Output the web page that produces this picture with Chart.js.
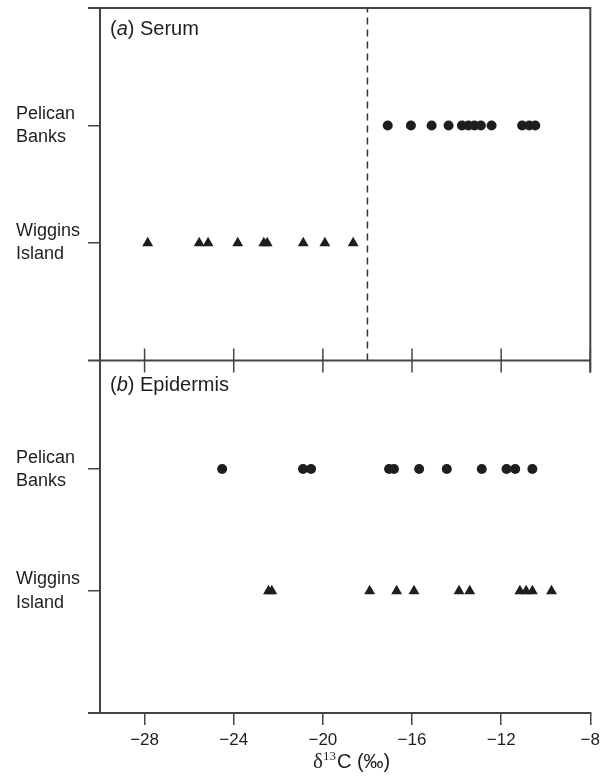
<!DOCTYPE html>
<html>
<head>
<meta charset="utf-8">
<script src="https://cdn.jsdelivr.net/npm/chart.js@4.4.1/dist/chart.umd.min.js"></script>
<style>
  html, body { margin: 0; padding: 0; background: #fff; }
  #wrap { position: relative; width: 605px; height: 781px; }
</style>
</head>
<body>
<div id="wrap"><canvas id="grafico"></canvas></div>
<script>
// ticks on the d13C axis
const xTicks = [-28, -24, -20, -16, -12, -8];
const sites = ['Pelican Banks', 'Wiggins Island'];
const siteLevels = [2, 1];
const panelTitles = [['(', 'a', ') Serum'], ['(', 'b', ') Epidermis']];
const serumSplit = -18;

// (a) serum
const serumPelican = [-17.09, -16.05, -15.12, -14.36, -13.76, -13.47, -13.2, -12.91, -12.43, -11.06, -10.74, -10.47];
const serumWiggins = [-27.86, -25.55, -25.15, -23.82, -22.65, -22.5, -20.88, -19.91, -18.64];
// (b) epidermis
const epiPelican = [-24.52, -20.89, -20.53, -17.03, -16.81, -15.68, -14.44, -12.87, -11.76, -11.37, -10.6];
const epiWiggins = [-22.44, -22.29, -17.9, -16.69, -15.91, -13.89, -13.41, -11.16, -10.88, -10.6, -9.74];

const INK = '#1e1e1e';
const LINE = '#444';
const SANS = "'Liberation Sans', Arial, sans-serif";

function puntos(vals, level) {
    return vals.map(v => ({x: v, y: level}));
}

function serie(vals, level, axis, shape, r) {
    return {
        type: 'scatter',
        data: puntos(vals, level),
        yAxisID: axis,
        pointStyle: shape,
        pointRadius: r,
        backgroundColor: INK,
        borderColor: INK,
        borderWidth: 0
    };
}

/*
* Lineas del marco, titulos de panel y titulo del eje x
*/
const marco = {
    id: 'marco',
    afterDraw(chart) {
        const ctx = chart.ctx;
        const a = chart.chartArea;
        const sx = chart.scales.x;
        const yTop = chart.scales.yTop;
        const mid = yTop.bottom;
        ctx.save();
        ctx.strokeStyle = LINE;
        ctx.lineWidth = 2;
        ctx.beginPath();
        ctx.moveTo(a.left - 12, a.top);
        ctx.lineTo(a.right, a.top);
        ctx.lineTo(a.right, mid + 12);
        ctx.moveTo(a.left - 12, mid);
        ctx.lineTo(a.right, mid);
        ctx.moveTo(a.left - 12, a.bottom);
        ctx.lineTo(a.left, a.bottom);
        ctx.stroke();

        ctx.lineWidth = 1.5;
        ctx.beginPath();
        xTicks.forEach(v => {
            const px = sx.getPixelForValue(v);
            ctx.moveTo(px, mid - 12);
            ctx.lineTo(px, mid + 12);
        });
        ctx.stroke();

        // titulos de panel
        ctx.fillStyle = INK;
        ctx.textBaseline = 'alphabetic';
        [[a.top, 27], [mid, 30]].forEach(([top, off], i) => {
            let px = a.left + 10;
            const py = top + off;
            panelTitles[i].forEach((part, j) => {
                ctx.font = (j === 1 ? 'italic ' : '') + '20px ' + SANS;
                ctx.fillText(part, px, py);
                px += ctx.measureText(part).width;
            });
        });

        // titulo eje x: delta 13 C (permil)
        const base = 768;
        let px = 313;
        ctx.font = "21px 'Liberation Serif', serif";
        ctx.fillText('\u03b4', px, base);
        px += ctx.measureText('\u03b4').width;
        ctx.font = "13px 'Liberation Serif', serif";
        ctx.fillText('13', px, base - 8);
        px += ctx.measureText('13').width + 1;
        ctx.font = '20px ' + SANS;
        ctx.fillText('C (\u2030)', px, base);
        ctx.restore();
    }
};

const ejeY = (min, max) => ({
    type: 'linear',
    position: 'left',
    stack: 'paneles',
    stackWeight: 1,
    min: min,
    max: max,
    afterBuildTicks: s => { s.ticks = siteLevels.map(v => ({value: v})); },
    afterFit: s => { s.width = 84; s.paddingTop = 0; s.paddingBottom = 0; },
    border: {display: true, color: LINE, width: 2},
    grid: {drawOnChartArea: false, drawTicks: true, tickLength: 12, color: LINE, lineWidth: 1.5},
    ticks: {
        autoSkip: false,
        crossAlign: 'far',
        color: INK,
        font: {family: SANS, size: 18, lineHeight: 1.28},
        callback: v => sites[siteLevels.indexOf(v)].split(' ')
    }
});

const ctx = document.getElementById('grafico').getContext('2d');
const grafico = new Chart(ctx, {
    data: {
        datasets: [
            serie(serumPelican, siteLevels[0], 'yTop', 'circle', 5),
            serie(serumWiggins, siteLevels[1], 'yTop', 'triangle', 6.3),
            serie(epiPelican, siteLevels[0], 'yBot', 'circle', 5),
            serie(epiWiggins, siteLevels[1], 'yBot', 'triangle', 6.3),
            {
                type: 'line',
                data: [{x: serumSplit, y: 0}, {x: serumSplit, y: 3}],
                yAxisID: 'yTop',
                borderColor: '#333',
                borderWidth: 1.5,
                borderDash: [7, 5],
                pointRadius: 0,
                fill: false
            }
        ]
    },
    options: {
        responsive: true,
        maintainAspectRatio: false,
        animation: false,
        events: [],
        layout: {padding: {left: 16, top: 8, right: 14, bottom: 0}},
        plugins: {legend: {display: false}, tooltip: {enabled: false}},
        scales: {
            x: {
                type: 'linear',
                position: 'bottom',
                min: -30,
                max: -8,
                afterBuildTicks: s => { s.ticks = xTicks.map(v => ({value: v})); },
                afterFit: s => { s.height = 68; },
                border: {display: true, color: LINE, width: 2},
                grid: {drawOnChartArea: false, drawTicks: true, tickLength: 12, color: LINE, lineWidth: 1.5},
                ticks: {
                    autoSkip: false,
                    maxRotation: 0,
                    padding: 5,
                    color: INK,
                    font: {family: SANS, size: 17},
                    callback: v => '\u2212' + Math.abs(v)
                }
            },
            yBot: ejeY(0, 2.89),
            yTop: ejeY(0, 3)
        }
    },
    plugins: [marco]
});
</script>
</body>
</html>
